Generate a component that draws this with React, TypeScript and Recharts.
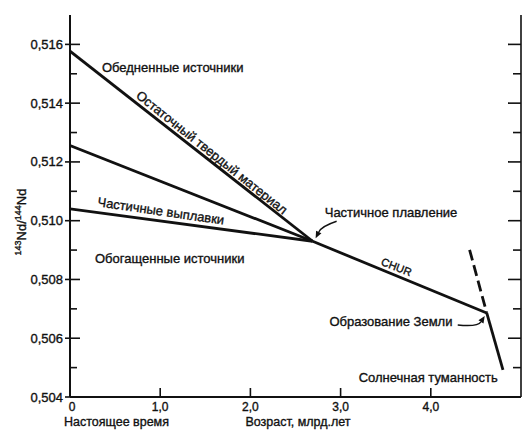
import { LineChart, Line, XAxis, YAxis, ReferenceDot } from 'recharts';

// age axis (Ga) and 143Nd/144Nd axis
const AGE_TICKS = [0, 1, 2, 3, 4];
const ND_TICKS = [0.504, 0.505, 0.506, 0.507, 0.508, 0.509, 0.51, 0.511, 0.512, 0.513, 0.514, 0.515, 0.516];

// evolution lines
const DEPLETED_AGE = [0, 2.69];
const DEPLETED_ND = [0.51577, 0.5093];
const MIDDLE_AGE = [0, 2.69];
const MIDDLE_ND = [0.51256, 0.5093];
const MELTS_AGE = [0, 2.69];
const MELTS_ND = [0.5104, 0.5093];
const CHUR_AGE = [2.69, 4.62];
const CHUR_ND = [0.5093, 0.50686];
const NEBULA_AGE = [4.62, 4.8];
const NEBULA_ND = [0.50686, 0.50492];
const DASHED_AGE = [4.43, 4.62];
const DASHED_ND = [0.50901, 0.50686];

// text notes inside the plot
const NOTE_TEXT = [
  'Обедненные источники',
  'Остаточный твердый материал',
  'Частичные выплавки',
  'Обогащенные источники',
  'Частичное плавление',
  'CHUR',
  'Образование Земли',
  'Солнечная туманность',
];
const NOTE_AGE = [0.354, 1.573, 1.008, 0.277, 2.824, 3.62, 4.24, 3.2];
const NOTE_ND = [0.51522, 0.51232, 0.51033, 0.50871, 0.51027, 0.50843, 0.50656, 0.50465];
const NOTE_STYLE = [
  { angle: 0, anchor: 'start', size: 13 },
  { angle: 38.6, anchor: 'middle', size: 13 },
  { angle: 8.3, anchor: 'middle', size: 13 },
  { angle: 0, anchor: 'start', size: 13 },
  { angle: 0, anchor: 'start', size: 13 },
  { angle: 21, anchor: 'middle', size: 11 },
  { angle: 0, anchor: 'end', size: 13 },
  { angle: 0, anchor: 'start', size: 13 },
];

const FONT = '"Liberation Sans", Arial, Helvetica, sans-serif';
const INK = '#111';
// scanned print looks a bit heavier than plain regular
const HEAVY = { stroke: INK, strokeWidth: 0.35 };

const toPoints = (ages: number[], nds: number[]) => ages.map((age, i) => ({ age, nd: nds[i] }));

const fmtNd = (v: number) => v.toFixed(3).replace('.', ',');
const isMajor = (v: number) => Math.round(v * 1000) % 2 === 0;

function LeftTick({ x, y, payload }: any) {
  const major = isMajor(payload.value);
  return (
    <g>
      <line x1={major ? x - 5 : x} x2={major ? x + 10 : x + 7} y1={y} y2={y} stroke={INK} strokeWidth={1.6} />
      {major && (
        <text x={x - 7} y={y} textAnchor="end" dominantBaseline="central" fontSize={13} fontFamily={FONT} fill={INK} {...HEAVY}>
          {fmtNd(payload.value)}
        </text>
      )}
    </g>
  );
}

function RightTick({ x, y, payload }: any) {
  const major = isMajor(payload.value);
  return <line x1={x} x2={x - (major ? 13 : 8)} y1={y} y2={y} stroke={INK} strokeWidth={1.6} />;
}

function BottomTick({ x, y, payload }: any) {
  const v = payload.value as number;
  return (
    <g>
      {v > 0 && <line x1={x} x2={x} y1={y} y2={y - 9} stroke={INK} strokeWidth={1.6} />}
      <text x={v === 0 ? x + 2 : x} y={y + 10} textAnchor="middle" dominantBaseline="central" fontSize={12} fontFamily={FONT} fill={INK} {...HEAVY}>
        {v === 0 ? '0' : v.toFixed(1).replace('.', ',')}
      </text>
    </g>
  );
}

function TopTick({ x, y, payload }: any) {
  if (payload.value === 0) return <g />;
  return <line x1={x} x2={x} y1={y} y2={y + 8} stroke={INK} strokeWidth={1.6} />;
}

function arrow(sx: number, sy: number, qx: number, qy: number, ex: number, ey: number) {
  const dx = ex - qx;
  const dy = ey - qy;
  const len = Math.hypot(dx, dy) || 1;
  const ux = dx / len;
  const uy = dy / len;
  const bx = ex - ux * 7;
  const by = ey - uy * 7;
  return (
    <g>
      <path d={`M${sx},${sy} Q${qx},${qy} ${bx},${by}`} fill="none" stroke={INK} strokeWidth={1.4} />
      <polygon points={`${ex},${ey} ${bx - uy * 3},${by + ux * 3} ${bx + uy * 3},${by - ux * 3}`} fill={INK} />
    </g>
  );
}

export default function App() {
  return (
    <div style={{ position: 'absolute', left: 0, top: 0, width: 522, height: 432, background: '#fff' }}>
      <LineChart width={522} height={432} margin={{ top: 15, right: 0, bottom: 0, left: 0 }}>
        <XAxis
          dataKey="age"
          type="number"
          domain={[0, 5]}
          ticks={AGE_TICKS}
          interval={0}
          height={35}
          allowDataOverflow
          tickLine={false}
          tickSize={0}
          tickMargin={0}
          axisLine={{ stroke: INK, strokeWidth: 2 }}
          tick={<BottomTick />}
        />
        <XAxis
          xAxisId="top"
          orientation="top"
          dataKey="age"
          type="number"
          domain={[0, 5]}
          ticks={AGE_TICKS}
          interval={0}
          height={0}
          allowDataOverflow
          tickLine={false}
          tickSize={0}
          tickMargin={0}
          axisLine={{ stroke: INK, strokeWidth: 1.6 }}
          tick={<TopTick />}
        />
        <YAxis
          dataKey="nd"
          type="number"
          domain={[0.504, 0.517]}
          ticks={ND_TICKS}
          interval={0}
          width={70}
          allowDataOverflow
          tickLine={false}
          tickSize={0}
          tickMargin={0}
          axisLine={{ stroke: INK, strokeWidth: 2 }}
          tick={<LeftTick />}
        />
        <YAxis
          yAxisId="r"
          orientation="right"
          type="number"
          domain={[0.504, 0.517]}
          ticks={ND_TICKS}
          interval={0}
          width={1}
          allowDataOverflow
          tickLine={false}
          tickSize={0}
          tickMargin={0}
          axisLine={{ stroke: INK, strokeWidth: 1.6 }}
          tick={<RightTick />}
        />
        <Line data={toPoints(DEPLETED_AGE, DEPLETED_ND)} dataKey="nd" stroke={INK} strokeWidth={2.8} dot={false} isAnimationActive={false} />
        <Line data={toPoints(MIDDLE_AGE, MIDDLE_ND)} dataKey="nd" stroke={INK} strokeWidth={2.8} dot={false} isAnimationActive={false} />
        <Line data={toPoints(MELTS_AGE, MELTS_ND)} dataKey="nd" stroke={INK} strokeWidth={2.8} dot={false} isAnimationActive={false} />
        <Line data={toPoints(CHUR_AGE, CHUR_ND)} dataKey="nd" stroke={INK} strokeWidth={2.8} dot={false} isAnimationActive={false} />
        <Line data={toPoints(NEBULA_AGE, NEBULA_ND)} dataKey="nd" stroke={INK} strokeWidth={2.8} dot={false} isAnimationActive={false} />
        <Line data={toPoints(DASHED_AGE, DASHED_ND)} dataKey="nd" stroke={INK} strokeWidth={2.8} strokeDasharray="11 5" dot={false} isAnimationActive={false} />
        {NOTE_TEXT.map((t, i) => (
          <ReferenceDot
            key={t}
            x={NOTE_AGE[i]}
            y={NOTE_ND[i]}
            r={1}
            ifOverflow="visible"
            shape={(p: any) => (
              <text
                x={p.cx}
                y={p.cy}
                textAnchor={NOTE_STYLE[i].anchor as any}
                dominantBaseline="central"
                fontSize={NOTE_STYLE[i].size}
                fontFamily={FONT}
                fill={INK}
                {...HEAVY}
                transform={NOTE_STYLE[i].angle ? `rotate(${NOTE_STYLE[i].angle}, ${p.cx}, ${p.cy})` : undefined}
              >
                {t}
              </text>
            )}
          />
        ))}
        <ReferenceDot
          x={CHUR_AGE[0]}
          y={CHUR_ND[0]}
          r={1}
          shape={(p: any) => arrow(p.cx + 24, p.cy - 20, p.cx + 9, p.cy - 15, p.cx + 3, p.cy - 3)}
        />
        <ReferenceDot
          x={CHUR_AGE[1]}
          y={CHUR_ND[1]}
          r={1}
          shape={(p: any) => arrow(p.cx - 29, p.cy + 12, p.cx - 9, p.cy + 14, p.cx - 2, p.cy + 3)}
        />
      </LineChart>
      <svg width={522} height={432} style={{ position: 'absolute', left: 0, top: 0, pointerEvents: 'none' }}>
        <text x={64} y={422} dominantBaseline="central" fontSize={12.5} fontFamily={FONT} fill={INK} {...HEAVY}>
          Настоящее время
        </text>
        <text x={298} y={422} textAnchor="middle" dominantBaseline="central" fontSize={12.5} fontFamily={FONT} fill={INK} {...HEAVY}>
          Возраст, млрд.лет
        </text>
        <text transform="rotate(-90, 26, 222)" x={26} y={222} textAnchor="middle" fontSize={13} fontFamily={FONT} fill={INK} {...HEAVY}>
          <tspan fontSize={9} dy={-5}>143</tspan>
          <tspan dy={5}>Nd/</tspan>
          <tspan fontSize={9} dy={-5}>144</tspan>
          <tspan dy={5}>Nd</tspan>
        </text>
      </svg>
    </div>
  );
}
